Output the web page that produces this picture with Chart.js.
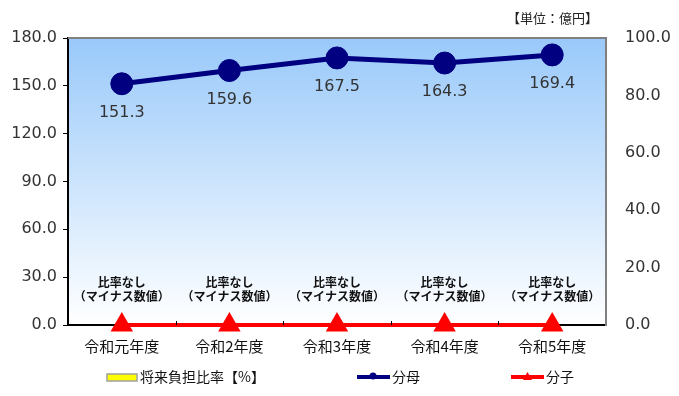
<!DOCTYPE html>
<html>
<head>
<meta charset="utf-8">
<script src="https://cdn.jsdelivr.net/npm/chart.js@4"></script>
<style>
  body { margin: 0; background: #fff; }
</style>
</head>
<body>
<canvas id="myChart" width="679" height="396"></canvas>
<script>
const labels = ["令和元年度", "令和2年度", "令和3年度", "令和4年度", "令和5年度"];
const ratio = [null, null, null, null, null]; // 将来負担比率【%】 (比率なし)
const bunbo = [151.3,159.6,167.5, 164.3, 169.4]; // 分母
const bunshi = [0, 0, 0, 0, 0]; // 分子
const ratioNote = ["比率なし", "（マイナス数値）"];
const unitText = "【単位：億円】";

const FONT = "'Noto Sans CJK JP', 'Noto Sans', sans-serif";
const NUMFONT = "'DejaVu Sans', sans-serif";

// background gradient + frame
const plotBackground = {
    id: "plotBackground",
    beforeDraw(chart) {
        const { ctx, chartArea: a } = chart;
        const g = ctx.createLinearGradient(0, a.top, 0, a.bottom);
        g.addColorStop(0, "#99c9fa");
        g.addColorStop(1, "#ffffff");
        ctx.save();
        ctx.fillStyle = g;
        ctx.fillRect(a.left, a.top, a.right - a.left, a.bottom - a.top);
        ctx.restore();
    },
    afterDatasetsDraw(chart) {
        const { ctx, chartArea: a } = chart;
        ctx.save();
        // top and right border (gray)
        ctx.strokeStyle = "#808080";
        ctx.lineWidth = 2;
        ctx.beginPath();
        ctx.moveTo(a.left, a.top);
        ctx.lineTo(a.right, a.top);
        ctx.lineTo(a.right, a.bottom);
        ctx.stroke();
        ctx.restore();
    }
};

// labels: values under points, "比率なし" notes, unit, legend
const textLayer = {
    id: "textLayer",
    afterDraw(chart) {
        const { ctx, chartArea: a, scales } = chart;
        ctx.save();

        // tick marks between categories on the x axis (pointing inward)
        ctx.strokeStyle = "#000";
        ctx.lineWidth = 1;
        for (let i = 0; i < labels.length - 1; i++) {
            const x = Math.round((scales.x.getPixelForValue(i) + scales.x.getPixelForValue(i + 1)) / 2) + 0.5;
            ctx.beginPath();
            ctx.moveTo(x, a.bottom);
            ctx.lineTo(x, a.bottom - 4);
            ctx.stroke();
        }

        // value labels for 分母
        ctx.fillStyle = "#333";
        ctx.font = "16px " + NUMFONT;
        ctx.textAlign = "center";
        ctx.textBaseline = "middle";
        const meta = chart.getDatasetMeta(1);
        meta.data.forEach((pt, i) => {
            ctx.fillText(bunbo[i].toFixed(1), pt.x, pt.y + 29);
        });

        // 比率なし notes
        ctx.fillStyle = "#111";
        ctx.font = "bold 12px " + FONT;
        labels.forEach((l, i) => {
            const x = scales.x.getPixelForValue(i);
            ctx.fillText(ratioNote[0], x, a.bottom - 43);
            ctx.fillText(ratioNote[1], x, a.bottom - 29);
        });

        // unit
        ctx.fillStyle = "#222";
        ctx.font = "13px " + FONT;
        ctx.textAlign = "right";
        ctx.fillText(unitText, a.right - 8, 18);

        // legend
        const ly = 377;
        ctx.textAlign = "left";
        ctx.font = "14px " + FONT;
        ctx.fillStyle = "#ffff00";
        ctx.fillRect(107, ly - 3, 30, 7);
        ctx.strokeStyle = "#a0a0a0";
        ctx.lineWidth = 1.5;
        ctx.strokeRect(107, ly - 3, 30, 7);
        ctx.fillStyle = "#111";
        ctx.fillText(chart.data.datasets[0].label, 140, ly);

        ctx.strokeStyle = "#000080";
        ctx.lineWidth = 4;
        ctx.beginPath();
        ctx.moveTo(357, ly);
        ctx.lineTo(390, ly);
        ctx.stroke();
        ctx.fillStyle = "#000080";
        ctx.beginPath();
        ctx.arc(373, ly - 1, 3.5, 0, Math.PI * 2);
        ctx.fill();
        ctx.fillStyle = "#111";
        ctx.fillText(chart.data.datasets[1].label, 392, ly);

        ctx.strokeStyle = "#ff0000";
        ctx.beginPath();
        ctx.moveTo(511, ly);
        ctx.lineTo(544, ly);
        ctx.stroke();
        ctx.fillStyle = "#ff0000";
        ctx.beginPath();
        ctx.moveTo(527.5, ly - 5);
        ctx.lineTo(532, ly + 3);
        ctx.lineTo(523, ly + 3);
        ctx.closePath();
        ctx.fill();
        ctx.fillStyle = "#111";
        ctx.fillText(chart.data.datasets[2].label, 546, ly);

        ctx.restore();
    }
};

const config = {
    data: {
        labels,
        datasets: [
            {
                type: "bar",
                label: "将来負担比率【%】",
                data: ratio,
                yAxisID: "y1",
                backgroundColor: "#ffff00",
                borderColor: "#a0a0a0",
                borderWidth: 1,
                order: 3
            },
            {
                type: "line",
                label: "分母",
                data: bunbo,
                yAxisID: "y",
                borderColor: "#000080",
                backgroundColor: "#000080",
                borderWidth: 5,
                pointRadius: 11,
                pointHoverRadius: 11,
                pointBorderWidth: 1,
                order: 2
            },
            {
                type: "line",
                label: "分子",
                data: bunshi,
                yAxisID: "y",
                borderColor: "#ff0000",
                backgroundColor: "#ff0000",
                borderWidth: 4,
                pointStyle: "triangle",
                pointRadius: 13,
                pointHoverRadius: 13,
                pointBorderWidth: 0,
                clip: false,
                order: 1
            }
        ]
    },
    options: {
        responsive: false,
        animation: false,
        events: [],
        layout: { padding: { top: 38, bottom: 40, left: 0, right: 0 } },
        plugins: {
            legend: { display: false },
            tooltip: { enabled: false }
        },
        scales: {
            x: {
                offset: true,
                grid: { display: false },
                border: { color: "#000", width: 2 },
                ticks: { color: "#111", font: { family: FONT, size: 15 }, padding: 4 },
                afterFit(scale) { scale.height = 31; }
            },
            y: {
                position: "left",
                min: 0,
                max: 180,
                ticks: {
                    stepSize: 30,
                    color: "#333",
                    font: { family: NUMFONT, size: 16 },
                    padding: 6,
                    callback: (v) => v.toFixed(1)
                },
                grid: { drawOnChartArea: false, tickLength: 5, color: "#000" },
                border: { color: "#000", width: 2 },
                afterFit(scale) { scale.width = 68; }
            },
            y1: {
                position: "right",
                min: 0,
                max: 100,
                ticks: {
                    stepSize: 20,
                    color: "#333",
                    font: { family: NUMFONT, size: 16 },
                    padding: 11,
                    callback: (v) => v.toFixed(1)
                },
                grid: { display: false },
                border: { color: "#808080", width: 2 },
                afterFit(scale) { scale.width = 73; }
            }
        }
    },
    plugins: [plotBackground, textLayer]
};

const myChart = new Chart(document.getElementById("myChart"), config);
</script>
</body>
</html>
